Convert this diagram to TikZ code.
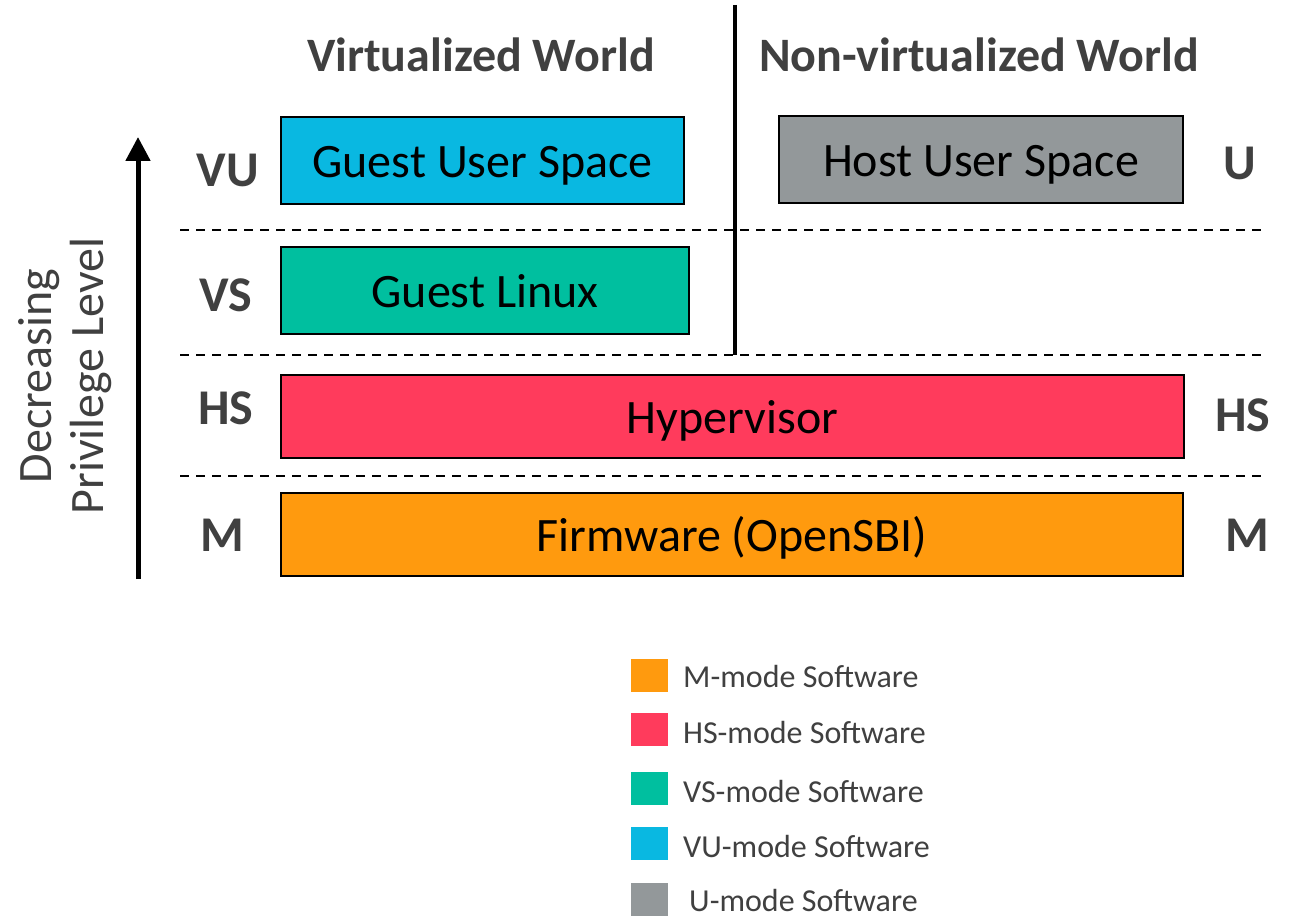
\documentclass[tikz,border=0pt]{standalone}
\usepackage{fontspec}
\setmainfont{Carlito}
\usetikzlibrary{arrows.meta}
\definecolor{dgray}{HTML}{404040}
\definecolor{corange}{HTML}{FF9A0E}
\definecolor{cred}{HTML}{FF3B5C}
\definecolor{cteal}{HTML}{00BF9F}
\definecolor{ccyan}{HTML}{09B8E1}
\definecolor{cgray}{HTML}{93989A}
\tikzset{
  modebox/.style={draw=black, line width=2pt, inner sep=0pt, text height=34pt, text depth=0pt, font=\fontsize{48}{52}\selectfont, text=black},
  lvl/.style={font=\fontsize{50}{54}\selectfont\bfseries, text=dgray},
  title/.style={font=\fontsize{48}{52}\selectfont\bfseries, text=dgray},
  sep/.style={dashed, dash pattern=on 9pt off 7pt, line width=1.6pt},
  legsq/.style={minimum width=37pt, minimum height=33pt, inner sep=0pt},
  legtxt/.style={font=\fontsize{32}{36}\selectfont, text=dgray, anchor=west, inner sep=0pt},
}
\begin{document}
\begin{tikzpicture}[x=1pt,y=-1pt]
\useasboundingbox (0,0) rectangle (1289,917);
% titles
\node[title] (tv) at (481,55) {Virtualized World};
\node[title] (tn) at (979,55) {Non-virtualized World};
% separators
\coordinate (vt) at (735,5);
\coordinate (vb) at (735,355);
\draw[line width=3.5pt] (vt) -- (vb);
\coordinate (d1a) at (180,230); \coordinate (d1b) at (1268,230);
\coordinate (d2a) at (180,355); \coordinate (d2b) at (1268,355);
\coordinate (d3a) at (180,476); \coordinate (d3b) at (1268,476);
\draw[sep] (d1a) -- (d1b);
\draw[sep] (d2a) -- (d2b);
\draw[sep] (d3a) -- (d3b);
% boxes
\node[modebox, fill=ccyan, minimum width=403pt, minimum height=87pt] (gus) at (482.5,160.5) {Guest User Space};
\node[modebox, fill=cteal, minimum width=408pt, minimum height=87pt] (gl) at (485,290.5) {Guest Linux};
\node[modebox, fill=cgray, minimum width=404pt, minimum height=87pt] (hus) at (981,159.5) {Host User Space};
\node[modebox, fill=cred, minimum width=903pt, minimum height=83pt] (hv) at (732.5,416.5) {Hypervisor};
\node[modebox, fill=corange, minimum width=902pt, minimum height=83pt] (fw) at (732,534.5) {Firmware (OpenSBI)};
% level labels
\node[lvl] (lvu) at (228,170) {VU};
\node[lvl] (lvs) at (226,295) {VS};
\node[lvl] (lhs) at (226,408) {HS};
\node[lvl] (lm) at (222,535) {M};
\node[lvl] (ru) at (1240,163) {U};
\node[lvl] (rhs) at (1243,415) {HS};
\node[lvl] (rm) at (1247,535) {M};
% arrow
\coordinate (ab) at (138,579);
\coordinate (at) at (138,137);
\draw[line width=5pt, -{Triangle[length=24pt,width=24pt]}] (ab) -- (at);
\node[rotate=90, font=\fontsize{48}{52}\selectfont, text=dgray, align=center] (dpl) at (65,376) {Decreasing\\Privilege Level};
% legend
\node[legsq, fill=corange] (s1) at (649.5,675.5) {};
\node[legsq, fill=cred] (s2) at (649.5,729.5) {};
\node[legsq, fill=cteal] (s3) at (649.5,788.5) {};
\node[legsq, fill=ccyan] (s4) at (649.5,843.5) {};
\node[legsq, fill=cgray] (s5) at (649.5,899.5) {};
\node[legtxt] (t1) at (683,677) {M-mode Software};
\node[legtxt] (t2) at (683,732) {HS-mode Software};
\node[legtxt] (t3) at (683,791) {VS-mode Software};
\node[legtxt] (t4) at (683,846) {VU-mode Software};
\node[legtxt] (t5) at (689,900) {U-mode Software};
\end{tikzpicture}
\end{document}
